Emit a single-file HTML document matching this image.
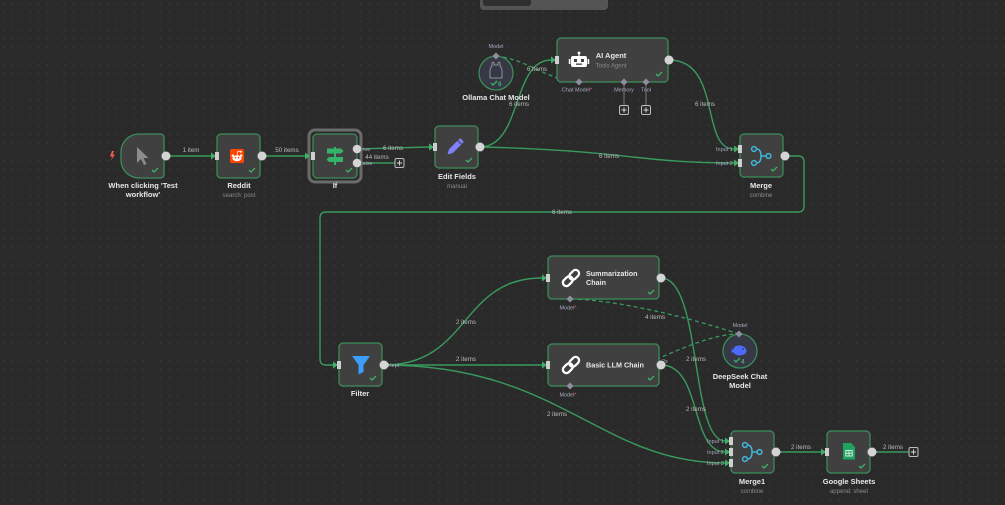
<!DOCTYPE html>
<html><head><meta charset="utf-8"><style>
html,body{margin:0;padding:0;background:#2a2a2a;width:1005px;height:505px;overflow:hidden}
svg{display:block}
text{font-family:"Liberation Sans",sans-serif}
.t{fill:#e6e6e6;font-size:7.5px;font-weight:bold;text-anchor:middle}
.tl{fill:#e6e6e6;font-size:7.2px;font-weight:bold}
.s{fill:#8a8a8a;font-size:6px;text-anchor:middle}
.i{fill:#bcbcbc;font-size:6.2px;text-anchor:middle}
.p{fill:#a9a9c0;font-size:5.5px}
.pm{fill:#a9a9c0;font-size:5.5px;text-anchor:middle}
.c{fill:none;stroke:#399a5e;stroke-width:1.4}
.d{fill:none;stroke:#399a5e;stroke-width:1.3;stroke-dasharray:4 3}
.n{fill:#404040;stroke:#3a8d58;stroke-width:1.3}
.ck{fill:none;stroke:#3fb068;stroke-width:1.3}
.op{fill:#d4d4d4}
.ip{fill:#cfcfcf}
.ar{fill:#3fb068}
.dm{fill:#8e8ea0}
.pl{fill:#2e2e2e;stroke:#bdbdbd;stroke-width:1}
.plx{stroke:#d0d0d0;stroke-width:1}
</style></head><body>
<svg width="1005" height="505" viewBox="0 0 1005 505" xmlns="http://www.w3.org/2000/svg">
<defs>
<pattern id="g" width="8.7" height="8.7" patternUnits="userSpaceOnUse"><circle cx="4" cy="4" r="0.7" fill="#3d3d3d"/></pattern>
</defs>
<rect width="1005" height="505" fill="#2a2a2a"/>
<rect width="1005" height="505" fill="url(#g)"/>

<!-- top bar -->
<rect x="480" y="-6" width="128" height="16" rx="4" fill="#545454"/>
<rect x="483" y="-6" width="48" height="12" rx="3" fill="#2f2f2f"/>

<!-- dashed AI connections -->
<path class="d" d="M496,56 C530,60 550,82 579,82"/>
<path class="d" d="M739,334 C690,318 620,300 570,299"/>
<path class="d" d="M570,386 C620,386 690,334 739,334"/>

<!-- connections -->
<path class="c" d="M166,156 L211,156"/>
<path class="c" d="M262,156 L305,156"/>
<path class="c" d="M357,149 L429,147"/>
<path class="c" d="M357,163 L395,163"/>
<path class="c" d="M480,147 C522,147 512,60 551,60"/>
<path class="c" d="M480,147 C620,150 640,163 734,163"/>
<path class="c" d="M669,60 C722,60 700,149 734,149"/>
<path class="c" d="M785,156 L798,156 Q804,156 804,162 L804,206 Q804,212 798,212 L326,212 Q320,212 320,218 L320,359 Q320,365 326,365 L333,365"/>
<path class="c" d="M384,365 C470,365 460,278 542,278"/>
<path class="c" d="M384,365 L542,365"/>
<path class="c" d="M384,365 C560,365 600,463 725,463"/>
<path class="c" d="M661,278 C702,278 690,441 725,441"/>
<path class="c" d="M661,365 C702,365 690,452 725,452"/>
<path class="c" d="M776,452 L821,452"/>
<path class="c" d="M872,452 L909,452"/>

<!-- item labels -->
<text class="i" x="191" y="152">1 item</text>
<text class="i" x="287" y="152">50 items</text>
<text class="i" x="393" y="150">6 items</text>
<text class="i" x="377" y="159">44 items</text>
<text class="p" x="361" y="151" font-size="5.3">true</text>
<text class="p" x="361" y="165" font-size="5.3">false</text>
<text class="i" x="519" y="106">6 items</text>
<text class="i" x="537" y="71">6 items</text>
<text class="i" x="609" y="158">6 items</text>
<text class="i" x="705" y="106">6 items</text>
<text class="i" x="562" y="214">6 items</text>
<text class="i" x="466" y="324">2 items</text>
<text class="i" x="466" y="361">2 items</text>
<text class="i" x="655" y="319">4 items</text>
<text class="i" x="557" y="416">2 items</text>
<text class="i" x="696" y="361">2 items</text>
<text class="i" x="696" y="411">2 items</text>
<text class="i" x="801" y="449">2 items</text>
<text class="i" x="893" y="449">2 items</text>
<text class="p" x="662" y="363" font-size="5">2s</text>
<text class="p" x="388" y="367" font-size="5.3">Kept</text>

<!-- plus boxes -->
<rect class="pl" x="395" y="158.5" width="9" height="9" rx="1.5"/>
<path class="plx" d="M399.5,160.5 V165.5 M397,163 H402"/>
<rect class="pl" x="909" y="447.5" width="9" height="9" rx="1.5"/>
<path class="plx" d="M913.5,449.5 V454.5 M911,452 H916"/>

<!-- Trigger -->
<path d="M112,151 L110,156.5 L112.5,156.5 L110.5,161 L115,154.5 L112.5,154.5 L114,151 Z" fill="#ff5a4a"/>
<path class="n" d="M139,134 H160 Q164,134 164,138 V174 Q164,178 160,178 H139 A18,18 0 0 1 121,160 V152 A18,18 0 0 1 139,134 Z"/>
<path d="M137,147 L137,163 L141,159 L144,165 L146.5,164 L143.5,158 L148.5,158 Z" fill="#8c8c8c"/>
<polyline class="ck" points="152,170 154,172 158,168"/>
<circle class="op" cx="166" cy="156" r="4.5"/>
<text class="t" x="143" y="188">When clicking 'Test</text>
<text class="t" x="143" y="197">workflow'</text>

<!-- Reddit -->
<rect class="n" x="217" y="134" width="43" height="44" rx="4"/>
<rect x="230" y="149" width="14" height="14" rx="2" fill="#ff4500"/>
<ellipse cx="237" cy="158.2" rx="4.6" ry="3" fill="#fff"/>
<circle cx="232.8" cy="155.6" r="1.2" fill="#fff"/>
<circle cx="241.2" cy="155.6" r="1.2" fill="#fff"/>
<path d="M237,155.3 L238,151.3 L240.5,151.8" stroke="#fff" stroke-width="0.7" fill="none"/>
<circle cx="240.8" cy="151.8" r="1" fill="#fff"/>
<circle cx="235.5" cy="157.6" r="0.8" fill="#ff4500"/>
<circle cx="238.5" cy="157.6" r="0.8" fill="#ff4500"/>
<polyline class="ck" points="249,170 251,172 255,168"/>
<polygon class="ar" points="211,152.5 216,156 211,159.5"/>
<rect class="ip" x="215" y="152" width="4" height="8"/>
<circle class="op" cx="262" cy="156" r="4.5"/>
<text class="t" x="239" y="188">Reddit</text>
<text class="s" x="239" y="197">search: post</text>

<!-- If -->
<rect x="309" y="130" width="52" height="52" rx="6" fill="none" stroke="#6b6b6b" stroke-width="3"/>
<rect class="n" x="313" y="134" width="44" height="44" rx="4"/>
<rect x="334" y="147" width="2" height="18" fill="#36b36a"/>
<path d="M327,148.5 H341 L343.5,151 L341,153.5 H327 Z" fill="#36b36a"/>
<path d="M343,157 H329 L326.5,159.5 L329,162 H343 Z" fill="#36b36a"/>
<polyline class="ck" points="346,170 348,172 352,168"/>
<polygon class="ar" points="305,152.5 310,156 305,159.5"/>
<rect class="ip" x="311" y="152" width="4" height="8"/>
<circle class="op" cx="357" cy="149" r="4.3"/>
<circle class="op" cx="357" cy="163" r="4.3"/>
<text class="t" x="335" y="188">If</text>

<!-- Edit Fields -->
<rect class="n" x="435" y="126" width="43" height="42" rx="4"/>
<g transform="rotate(-45 455 147)">
<rect x="449" y="144.3" width="12" height="5.4" fill="#8080ff"/>
<rect x="462" y="144.3" width="3" height="5.4" rx="1" fill="#8080ff"/>
<polygon points="449,144.3 444.5,147 449,149.7" fill="#8080ff"/>
</g>
<polyline class="ck" points="466,160 468,162 472,158"/>
<polygon class="ar" points="429,143.5 434,147 429,150.5"/>
<rect class="ip" x="433" y="143" width="4" height="8"/>
<circle class="op" cx="480" cy="147" r="4.5"/>
<text class="t" x="457" y="179">Edit Fields</text>
<text class="s" x="457" y="188">manual</text>

<!-- Ollama -->
<circle cx="496" cy="73" r="17" fill="#363945" stroke="#3a8d58" stroke-width="1.3"/>
<path d="M492,66 V63 Q493,61 494,63 V65 H498 V63 Q499,61 500,63 V66 Q502,68 502,71 V78 H490 V71 Q490,68 492,66 Z" fill="none" stroke="#8f8f9c" stroke-width="1"/>
<polyline class="ck" points="491,83 493,85 497,81"/>
<text x="498" y="86" fill="#3fb068" font-size="6.5" font-weight="bold" font-family="Liberation Sans">6</text>
<rect class="dm" x="493.5" y="53.5" width="5" height="5" transform="rotate(45 496 56)"/>
<text class="pm" x="496" y="48">Model</text>
<text class="t" x="496" y="100">Ollama Chat Model</text>

<!-- AI Agent -->
<rect class="n" x="557" y="38" width="111" height="44" rx="4"/>
<circle cx="579" cy="53" r="1.4" fill="#fff"/>
<rect x="578.4" y="53" width="1.2" height="3" fill="#fff"/>
<rect x="571" y="56" width="16" height="11" rx="2" fill="#fff"/>
<rect x="568.8" y="59" width="1.6" height="5" fill="#fff"/>
<rect x="587.6" y="59" width="1.6" height="5" fill="#fff"/>
<rect x="574" y="59" width="3" height="3" fill="#404040"/>
<rect x="581" y="59" width="3" height="3" fill="#404040"/>
<rect x="576" y="63.5" width="6" height="1.3" fill="#404040"/>
<text class="t" x="611" y="58">AI Agent</text>
<text class="s" x="611" y="67.5">Tools Agent</text>
<polyline class="ck" points="656,74 658,76 662,72"/>
<polygon class="ar" points="551,56.5 556,60 551,63.5"/>
<rect class="ip" x="555" y="56" width="4" height="8"/>
<circle class="op" cx="669" cy="60" r="4.5"/>
<path d="M624,85 V105 M646,85 V105" stroke="#7a7a7a" stroke-width="1"/>
<rect class="dm" x="576.5" y="79.5" width="5" height="5" transform="rotate(45 579 82)"/>
<rect class="dm" x="621.5" y="79.5" width="5" height="5" transform="rotate(45 624 82)"/>
<rect class="dm" x="643.5" y="79.5" width="5" height="5" transform="rotate(45 646 82)"/>
<text class="pm" x="577" y="91.5">Chat Model<tspan fill="#ff4d4d">*</tspan></text>
<text class="pm" x="624" y="91.5">Memory</text>
<text class="pm" x="646" y="91.5">Tool</text>
<rect class="pl" x="619.5" y="105.5" width="9" height="9" rx="1.5"/>
<path class="plx" d="M624,107.5 V112.5 M621.5,110 H626.5"/>
<rect class="pl" x="641.5" y="105.5" width="9" height="9" rx="1.5"/>
<path class="plx" d="M646,107.5 V112.5 M643.5,110 H648.5"/>

<!-- Merge -->
<rect class="n" x="740" y="134" width="43" height="43" rx="4"/>
<g stroke="#3fb6d8" stroke-width="1.5" fill="none">
<circle cx="754" cy="149" r="2.4"/>
<circle cx="754" cy="163" r="2.4"/>
<circle cx="768.5" cy="156" r="2.4"/>
<path d="M756.4,149 Q761,149 761,156 Q761,163 756.4,163 M761,156 H766"/>
</g>
<polyline class="ck" points="771,169 773,171 777,167"/>
<polygon class="ar" points="734,145.5 739,149 734,152.5"/>
<rect class="ip" x="738" y="145" width="4" height="8"/>
<polygon class="ar" points="734,159.5 739,163 734,166.5"/>
<rect class="ip" x="738" y="159" width="4" height="8"/>
<text class="p" x="716" y="151">Input 1</text>
<text class="p" x="716" y="165">Input 2</text>
<circle class="op" cx="785" cy="156" r="4.5"/>
<text class="t" x="761" y="188">Merge</text>
<text class="s" x="761" y="197">combine</text>

<!-- Filter -->
<rect class="n" x="339" y="343" width="43" height="43" rx="4"/>
<path d="M352,356 H370 L363.5,365 V372 L358.5,374.5 V365 Z" fill="#3d9dfb"/>
<polyline class="ck" points="370,378 372,380 376,376"/>
<polygon class="ar" points="333,361.5 338,365 333,368.5"/>
<rect class="ip" x="337" y="361" width="4" height="8"/>
<circle class="op" cx="384" cy="365" r="4.5"/>
<text class="t" x="360" y="396">Filter</text>

<!-- Summarization Chain -->
<rect class="n" x="548" y="256" width="111" height="43" rx="4"/>
<g transform="rotate(-45 571 278)" fill="none" stroke="#fff" stroke-width="2.3">
<rect x="561" y="274.5" width="11" height="7" rx="3.5"/>
<rect x="570" y="274.5" width="11" height="7" rx="3.5"/>
</g>
<text class="tl" x="586" y="276">Summarization</text>
<text class="tl" x="586" y="285">Chain</text>
<polyline class="ck" points="648,292 650,294 654,290"/>
<polygon class="ar" points="542,274.5 547,278 542,281.5"/>
<rect class="ip" x="546" y="274" width="4" height="8"/>
<circle class="op" cx="661" cy="278" r="4.5"/>
<rect class="dm" x="567.5" y="296.5" width="5" height="5" transform="rotate(45 570 299)"/>
<text class="pm" x="568" y="309.5">Model<tspan fill="#ff4d4d">*</tspan></text>

<!-- Basic LLM Chain -->
<rect class="n" x="548" y="344" width="111" height="42" rx="4"/>
<g transform="rotate(-45 571 365)" fill="none" stroke="#fff" stroke-width="2.3">
<rect x="561" y="361.5" width="11" height="7" rx="3.5"/>
<rect x="570" y="361.5" width="11" height="7" rx="3.5"/>
</g>
<text class="tl" x="586" y="367.5">Basic LLM Chain</text>
<polyline class="ck" points="648,378 650,380 654,376"/>
<polygon class="ar" points="542,361.5 547,365 542,368.5"/>
<rect class="ip" x="546" y="361" width="4" height="8"/>
<circle class="op" cx="661" cy="365" r="4.5"/>
<rect class="dm" x="567.5" y="383.5" width="5" height="5" transform="rotate(45 570 386)"/>
<text class="pm" x="568" y="396.5">Model<tspan fill="#ff4d4d">*</tspan></text>

<!-- DeepSeek -->
<circle cx="740" cy="351" r="17" fill="#363945" stroke="#3a8d58" stroke-width="1.3"/>
<path d="M733,350 Q734,345 740,345.5 Q746,346 746.5,351 Q746,355 740,355.5 Q735,355.5 733,352 L731,353 L732,350 L730.5,347.5 Z" fill="#4d6bfe"/>
<circle cx="743" cy="349" r="0.9" fill="#363945"/>
<polyline class="ck" points="734,360 736,362 740,358"/>
<text x="741" y="363.5" fill="#3fb068" font-size="6.5" font-weight="bold" font-family="Liberation Sans">4</text>
<rect class="dm" x="736.5" y="331.5" width="5" height="5" transform="rotate(45 739 334)"/>
<text class="pm" x="740" y="327">Model</text>
<text class="t" x="740" y="379">DeepSeek Chat</text>
<text class="t" x="740" y="388">Model</text>

<!-- Merge1 -->
<rect class="n" x="731" y="431" width="43" height="42" rx="4"/>
<g stroke="#3fb6d8" stroke-width="1.5" fill="none">
<circle cx="745" cy="445" r="2.4"/>
<circle cx="745" cy="459" r="2.4"/>
<circle cx="759.5" cy="452" r="2.4"/>
<path d="M747.4,445 Q752,445 752,452 Q752,459 747.4,459 M752,452 H757"/>
</g>
<polyline class="ck" points="762,466 764,468 768,464"/>
<polygon class="ar" points="725,437.5 730,441 725,444.5"/>
<rect class="ip" x="729" y="437" width="4" height="8"/>
<polygon class="ar" points="725,448.5 730,452 725,455.5"/>
<rect class="ip" x="729" y="448" width="4" height="8"/>
<polygon class="ar" points="725,459.5 730,463 725,466.5"/>
<rect class="ip" x="729" y="459" width="4" height="8"/>
<text class="p" x="707" y="443">Input 1</text>
<text class="p" x="707" y="454">Input 2</text>
<text class="p" x="707" y="465">Input 3</text>
<circle class="op" cx="776" cy="452" r="4.5"/>
<text class="t" x="752" y="484">Merge1</text>
<text class="s" x="752" y="493">combine</text>

<!-- Google Sheets -->
<rect class="n" x="827" y="431" width="43" height="42" rx="4"/>
<path d="M843,443 H851 L855,447 V459.5 H843 Z" fill="#20a261"/>
<rect x="845.8" y="450.5" width="6.4" height="5.5" fill="none" stroke="#e8f5ec" stroke-width="0.9"/>
<path d="M849,450.5 V456 M845.8,453.2 H852.2" stroke="#e8f5ec" stroke-width="0.8"/>
<polyline class="ck" points="859,466 861,468 865,464"/>
<polygon class="ar" points="821,448.5 826,452 821,455.5"/>
<rect class="ip" x="825" y="448" width="4" height="8"/>
<circle class="op" cx="872" cy="452" r="4.5"/>
<text class="t" x="849" y="484">Google Sheets</text>
<text class="s" x="849" y="493">append: sheet</text>
</svg>
</body></html>
